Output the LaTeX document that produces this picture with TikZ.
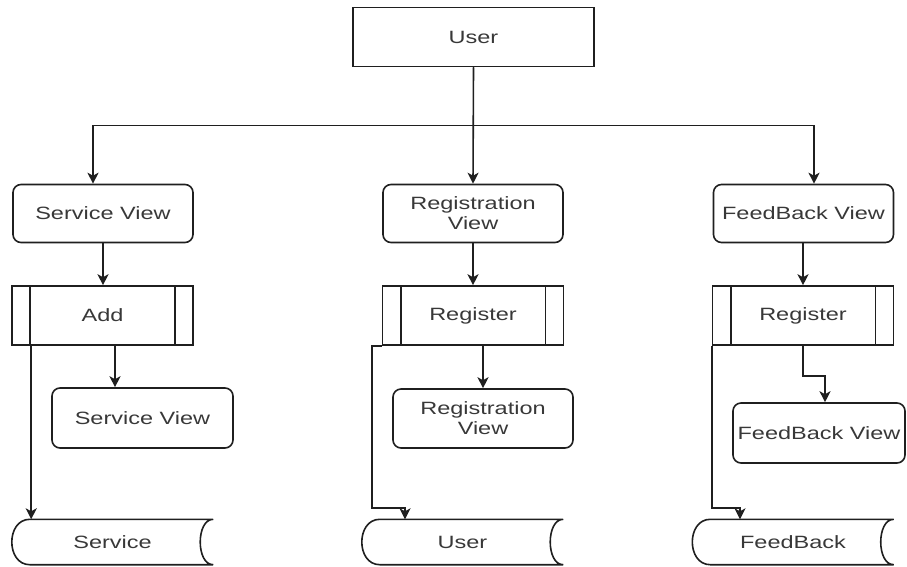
\documentclass[tikz,border=0pt]{standalone}
\usepackage{fontspec}
\setmainfont{Liberation Sans}[FakeStretch=1.32]
\usetikzlibrary{arrows.meta,calc}
\newcommand\drawstore[1]{%
  \draw[ln] ([xshift=18pt]#1.north west) -- (#1.north east)
    .. controls ([xshift=-17.3pt]#1.north east) and ([xshift=-17.3pt]#1.south east) .. (#1.south east)
    -- ([xshift=18pt]#1.south west)
    .. controls ([xshift=-6pt]#1.south west) and ([xshift=-6pt]#1.north west) .. cycle;}
\begin{document}
\begin{tikzpicture}[x=1pt,y=-1pt,
  every node/.style={font=\fontsize{17.8}{20}\selectfont, text=black!78, align=center},
  ln/.style={draw=black!88, line width=1.6pt},
  arr/.style={ln, -{Stealth[length=11pt,width=11pt,inset=3pt]}},
  plainbox/.style={ln, rectangle, minimum width=241pt, minimum height=59pt, inner sep=0pt},
  rbox/.style={ln, rectangle, rounded corners=8pt, minimum width=180pt, minimum height=58pt, inner sep=0pt},
  proc/.style={ln, rectangle, minimum width=181pt, minimum height=59pt, inner sep=0pt},
  store/.style={rectangle, minimum width=201pt, minimum height=45pt, inner sep=0pt},
]
\useasboundingbox (0,0) rectangle (907,566);
\node[plainbox] (user) at (473.5,37) {User};
\node[rbox] (sv1) at (103,213.5) {Service View};
\node[rbox] (rv1) at (473,213.5) {Registration\\View};
\node[rbox] (fv1) at (803.5,213.5) {FeedBack View};
\node[proc] (add) at (102.5,315.5) {Add};
\node[proc] (rg1) at (473,315.5) {Register};
\node[proc] (rg2) at (803,315.5) {Register};
\foreach \n in {add,rg1,rg2}{
  \draw[ln] ([xshift=19pt]\n.north west) -- ([xshift=19pt]\n.south west);
  \draw[ln] ([xshift=-19pt]\n.north east) -- ([xshift=-19pt]\n.south east);
}
\node[rbox, minimum width=181pt, minimum height=60pt] (sv2) at (142.5,418) {Service View};
\node[rbox, minimum height=59pt] (rv2) at (483,418.5) {Registration\\View};
\node[rbox, minimum width=172pt, minimum height=60pt] (fv2) at (819,433) {FeedBack View};
\node[store] (st1) at (112.5,542) {Service};
\node[store] (st2) at (462.5,542) {User};
\node[store] (st3) at (793,542) {FeedBack};
\drawstore{st1}
\drawstore{st2}
\drawstore{st3}
% connectors
\draw[arr] (user.south) -- (rv1.north);
\draw[arr] (user.south) -- ++(0,58) -| ([xshift=-10pt]sv1.north);
\draw[arr] (user.south) -- ++(0,58) -| ([xshift=10.5pt]fv1.north);
\draw[arr] (sv1.south) -- (sv1.south |- add.north);
\draw[arr] (rv1.south) -- (rg1.north);
\draw[arr] (rg2.north |- fv1.south) -- (rg2.north);
\draw[arr] ([xshift=12.5pt]add.south) -- ([xshift=12.5pt]add.south |- sv2.north);
\draw[arr] ([xshift=10pt]rg1.south) -- ([xshift=10pt]rg1.south |- rv2.north);
\draw[arr] (rg2.south) -- ++(0,30) -| ([xshift=6pt]fv2.north);
\draw[arr] ([xshift=20pt]add.south west) -- ([xshift=20pt]add.south west |- st1.north);
\draw[arr] (rg1.south west) -- ++(-10,0) -- ++(0,162) -| ([xshift=-57.5pt]st2.north);
\draw[arr] (rg2.south west) -- ++(0,162) -| ([xshift=-53pt]st3.north);
\end{tikzpicture}
\end{document}
